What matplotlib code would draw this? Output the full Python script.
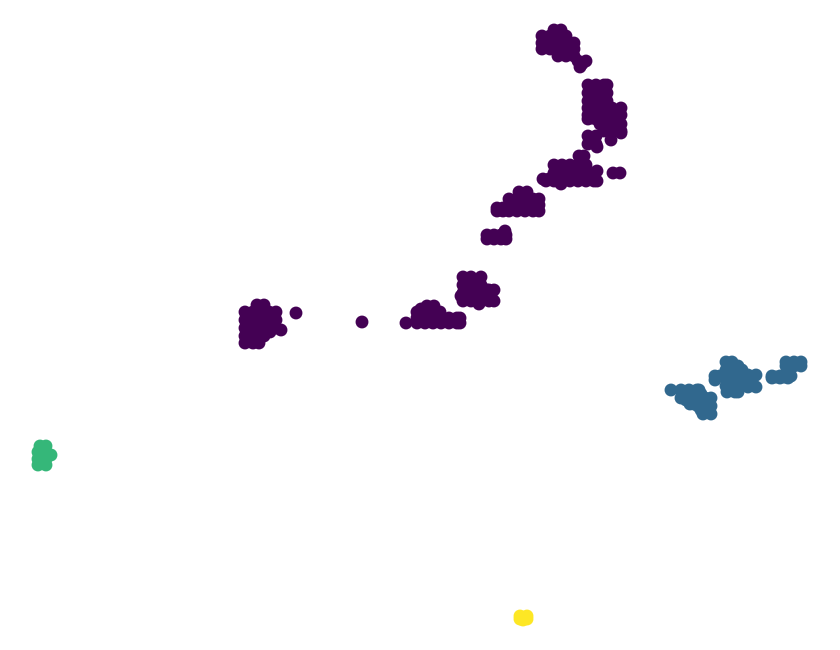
import numpy as np
import matplotlib
matplotlib.use('Agg')
import matplotlib.pyplot as plt

# pontos de cada grupo (coordenadas do embedding)
grupo0 = [
    # bloco da esquerda
    (257, 305), (264, 305), (260, 308),
    (245, 312), (253, 312), (261, 312), (269, 312), (276, 312),
    (249, 316), (257, 316), (265, 316), (272, 316),
    (245, 320), (253, 320), (261, 320), (269, 320), (276, 320),
    (249, 324), (257, 324), (265, 324), (272, 324),
    (245, 328), (253, 328), (261, 328), (269, 328), (276, 328), (281, 330),
    (249, 332), (257, 332), (265, 332), (270, 332),
    (245, 336), (253, 336), (261, 336), (264, 336),
    (249, 339), (257, 339),
    (245, 343), (253, 343), (259, 343),
    # pontos isolados
    (296, 313), (362, 322), (406, 323),
    # bloco 411-466
    (427, 306), (434, 306), (421, 309), (430, 309),
    (417, 312), (424, 312), (432, 312), (440, 312),
    (421, 315), (429, 315), (437, 315),
    (417, 318), (425, 318), (433, 318), (441, 318), (449, 318), (457, 318), (460, 318),
    (445, 321), (453, 321),
    (417, 323), (425, 323), (433, 323), (441, 323), (449, 323), (457, 323), (460, 323),
    # bloco 457-500
    (463, 277), (471, 277), (481, 277),
    (467, 281), (476, 281),
    (463, 285), (471, 285), (481, 285),
    (467, 289), (476, 289), (487, 290),
    (463, 293), (471, 293), (481, 293), (489, 290), (494, 290),
    (461, 296), (467, 297), (476, 297), (485, 296), (491, 296),
    (463, 301), (471, 301), (481, 301), (489, 301), (494, 301), (479, 304),
    # bloco 481-512
    (487, 235), (494, 235), (501, 235), (506, 235),
    (490, 237), (498, 237), (504, 237),
    (487, 239), (494, 239), (501, 239), (506, 239), (505, 231),
    # bloco 491-545
    (519, 192), (527, 192), (523, 195),
    (509, 199), (517, 199), (525, 199), (533, 199), (539, 199),
    (513, 202), (521, 202), (529, 202), (536, 202),
    (497, 208), (503, 208), (509, 205), (517, 205), (525, 205), (533, 205), (539, 205),
    (513, 208), (521, 208), (529, 208), (536, 208), (500, 210),
    (497, 211), (503, 211), (509, 211), (517, 211), (525, 211), (533, 211), (539, 211),
    # bloco 537-603
    (579, 156), (584, 156), (581, 160),
    (554, 165), (562, 165), (570, 165), (578, 165), (586, 165),
    (558, 169), (566, 169), (574, 169), (582, 169),
    (554, 173), (562, 173), (570, 173), (578, 173), (586, 173), (594, 173), (597, 171),
    (558, 177), (566, 177), (574, 177), (582, 177), (590, 177),
    (543, 179), (549, 179), (546, 181),
    (554, 181), (562, 181), (570, 181), (578, 181), (586, 181), (594, 181), (597, 181),
    (561, 184),
    (613, 173), (620, 173),
    # bloco superior
    (554, 30), (561, 30), (557, 33),
    (542, 36), (550, 36), (558, 36), (566, 36),
    (546, 40), (554, 40), (562, 40),
    (542, 43), (550, 43), (558, 43), (566, 43), (574, 43),
    (546, 46), (554, 46), (562, 46), (570, 46),
    (542, 49), (550, 49), (558, 49), (566, 49), (574, 49),
    (562, 53), (570, 53),
    (558, 56), (566, 56), (574, 56),
    (578, 61), (586, 61), (582, 64), (580, 67),
    # bloco vertical
    (588, 85), (596, 85), (604, 85), (607, 85),
    (592, 89), (600, 89),
    (588, 93), (596, 93), (604, 93), (607, 93),
    (592, 97), (600, 97),
    (588, 101), (596, 101), (604, 101), (607, 101),
    (592, 105), (600, 105),
    (588, 108), (596, 108), (604, 108), (612, 108), (621, 108),
    (592, 112), (600, 112), (608, 112), (616, 112),
    (588, 115), (596, 115), (604, 115), (612, 115), (621, 115),
    (588, 119), (596, 119), (592, 118), (608, 120), (616, 120),
    (600, 124), (608, 124), (616, 124), (621, 124),
    (608, 128), (612, 128), (616, 128),
    (604, 131), (612, 131), (621, 131), (621, 133),
    (588, 136), (596, 136), (611, 140), (592, 140), (594, 141),
    (588, 144), (596, 144), (597, 147),
]

grupo1 = [
    # bloco esquerdo
    (671, 390),
    (681, 390), (689, 390), (697, 390), (699, 390),
    (685, 394), (693, 394), (701, 394),
    (681, 398), (689, 398), (697, 398), (705, 398), (711, 398),
    (686, 400), (694, 404), (708, 402),
    (690, 404), (698, 406), (705, 406), (711, 406),
    (701, 410), (708, 410),
    (703, 414), (711, 414),
    # bloco central
    (726, 362), (732, 362),
    (730, 366), (738, 366),
    (715, 376), (715, 380), (720, 376),
    (726, 370), (734, 370), (742, 370),
    (730, 374), (738, 374),
    (726, 378), (734, 378), (742, 378), (748, 375), (756, 375),
    (730, 382), (738, 382), (746, 381), (752, 381),
    (726, 386), (734, 386), (742, 386), (748, 387), (756, 387),
    (727, 392), (735, 392), (738, 392), (731, 389),
    # bloco direito
    (786, 362), (794, 362), (801, 362),
    (790, 364), (798, 364),
    (786, 366), (794, 366), (801, 366),
    (788, 370),
    (772, 376), (780, 376), (788, 376), (791, 376),
    (776, 377), (784, 377),
    (772, 378), (780, 378), (788, 378),
]

grupo2 = [
    (40, 446), (46, 446),
    (42, 449),
    (38, 452), (46, 452), (51, 455),
    (42, 456),
    (38, 459), (46, 459),
    (42, 462),
    (38, 465), (46, 465),
]

grupo3 = [
    (520, 616), (527, 616), (520, 619), (527, 619), (523, 620),
]

grupos = [grupo0, grupo1, grupo2, grupo3]

# juntando tudo com os rótulos
pts = np.array([p for g in grupos for p in g], dtype=float)
labels = np.concatenate([np.full(len(g), i) for i, g in enumerate(grupos)])

fig = plt.figure(figsize=(8.4, 6.5), dpi=100)
ax = fig.add_axes([0, 0, 1, 1])
ax.scatter(pts[:, 0], pts[:, 1], c=labels, cmap='viridis', s=68)
ax.set_xlim(0, 840)
ax.set_ylim(650, 0)
ax.axis('off')

fig.savefig('out.png', dpi=100)
